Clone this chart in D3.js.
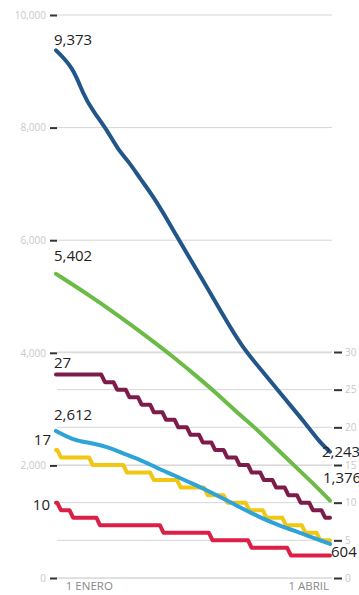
<!DOCTYPE html>
<html>
<head>
<meta charset="utf-8">
<script src="https://cdn.jsdelivr.net/npm/d3@7"></script>
<style>
  html, body { margin: 0; padding: 0; background: #fff; }
  svg { display: block; }
</style>
</head>
<body>
<svg id="chart" width="359" height="595"></svg>
<script>
// ---- DATA (day index from series start, value) ----
const leftTicks = [0, 2000, 4000, 6000, 8000, 10000];
const rightTicks = [0, 5, 10, 15, 20, 25, 30];
const xTickDays = [4, 95];
const xTickLabels = ["1 ENERO", "1 ABRIL"];

// left-axis series (smooth)
const darkBlueDays = [0, 7, 11, 15, 21, 25, 30, 34, 40, 45, 51, 56, 60, 68, 76, 85, 93, 101, 108, 112];
const darkBlueVals = [9373, 9070, 8600, 8300, 7950, 7630, 7380, 7120, 6760, 6400, 5950, 5580, 5290, 4690, 4100, 3640, 3210, 2800, 2400, 2243];

const greenDays = [0, 14, 26, 38, 47, 56, 66, 75, 83, 93, 105, 112];
const greenVals = [5402, 5010, 4645, 4260, 3960, 3638, 3270, 2900, 2610, 2175, 1687, 1376];

const lightBlueDays = [0, 7, 14, 21, 27, 34, 41, 48, 55, 59, 72, 83, 92, 100, 112];
const lightBlueVals = [2612, 2450, 2400, 2330, 2220, 2110, 1960, 1830, 1690, 1615, 1330, 1080, 920, 800, 604];

// right-axis series (steps): day of change, new value
const maroonDays = [0, 20, 25, 30, 35, 40, 45, 50, 55, 60, 65, 70, 75, 80, 85, 90, 95, 100, 105, 110];
const maroonVals = [27, 26, 25, 24, 23, 22, 21, 20, 19, 18, 17, 16, 15, 14, 13, 12, 11, 10, 9, 8];

const yellowDays = [0, 2, 15, 29, 40, 51, 62, 70, 79, 86, 94, 102, 108];
const yellowVals = [17, 16, 15, 14, 13, 12, 11, 10, 9, 8, 7, 6, 5];

const redDays = [0, 2, 7, 18, 44, 64, 80, 96];
const redVals = [10, 9, 8, 7, 6, 5, 4, 3];

const lastDay = 112;

// ---- SETUP ----
const svg = d3.select("#chart");
const x = d3.scaleLinear().domain([0, lastDay]).range([56, 330]);
const yL = d3.scaleLinear().domain([0, 10000]).range([578, 15]);
const yR = d3.scaleLinear().domain([0, 30]).range([578, 352]);

const gridX0 = 57, gridX1 = 332;

// gridlines
const grid = svg.append("g");
leftTicks.forEach(t => {
  grid.append("line").attr("x1", gridX0).attr("x2", gridX1)
    .attr("y1", yL(t)).attr("y2", yL(t))
    .attr("stroke", "#d6d6d6").attr("stroke-width", 1);
});
rightTicks.forEach(t => {
  grid.append("line").attr("x1", gridX0).attr("x2", gridX1)
    .attr("y1", yR(t)).attr("y2", yR(t))
    .attr("stroke", "#d6d6d6").attr("stroke-width", 1);
});

// left axis
const fmt = d3.format(",");
const leftAxis = d3.axisLeft(yL).tickValues(leftTicks).tickSize(7).tickPadding(4).tickFormat(fmt);
const gL = svg.append("g").attr("transform", "translate(57,0)").call(leftAxis);
gL.select(".domain").remove();
gL.selectAll(".tick line").attr("stroke", "#333").attr("stroke-width", 2);
gL.selectAll(".tick text").attr("fill", "#c8c8c8").attr("font-size", 10)
  .attr("font-family", "'Open Sans', sans-serif");

// right axis
const rightAxis = d3.axisRight(yR).tickValues(rightTicks).tickSize(8).tickPadding(3);
const gR = svg.append("g").attr("transform", "translate(334,0)").call(rightAxis);
gR.select(".domain").remove();
gR.selectAll(".tick line").attr("stroke", "#333").attr("stroke-width", 2);
gR.selectAll(".tick text").attr("fill", "#c8c8c8").attr("font-size", 10)
  .attr("font-family", "'Open Sans', sans-serif");

// x labels
xTickDays.forEach((d, i) => {
  svg.append("text").attr("x", x(d)).attr("y", 590)
    .attr("font-family", "'Open Sans', sans-serif").attr("font-size", 11.5)
    .attr("fill", "#8a8a8a").text(xTickLabels[i]);
});

// ---- LINES ----
function smoothPts(days, vals) { return days.map((d, i) => [d, vals[i]]); }
function stepPts(days, vals, end) {
  const pts = [];
  const tw = 1.5;
  days.forEach((d, i) => {
    if (i > 0) pts.push([d - tw, vals[i - 1]]);
    pts.push([d, vals[i]]);
  });
  pts.push([end, vals[vals.length - 1]]);
  return pts;
}

const lineL = d3.line().x(p => x(p[0])).y(p => yL(p[1])).curve(d3.curveBasis);
const lineR = d3.line().x(p => x(p[0])).y(p => yR(p[1])).curve(d3.curveLinear);

const series = [
  { pts: stepPts(redDays, redVals, lastDay), line: lineR, color: "#db1f47" },
  { pts: stepPts(yellowDays, yellowVals, lastDay), line: lineR, color: "#f2c713" },
  { pts: smoothPts(lightBlueDays, lightBlueVals), line: lineL, color: "#2ea3d7" },
  { pts: stepPts(maroonDays, maroonVals, lastDay), line: lineR, color: "#7d1c4a" },
  { pts: smoothPts(greenDays, greenVals), line: lineL, color: "#6cbb46" },
  { pts: smoothPts(darkBlueDays, darkBlueVals), line: lineL, color: "#22568a" }
];
series.forEach(s => {
  svg.append("path").attr("d", s.line(s.pts))
    .attr("fill", "none").attr("stroke", s.color).attr("stroke-width", 4)
    .attr("stroke-linejoin", "round").attr("stroke-linecap", "round");
});

// ---- ANNOTATIONS ----
const lab = (txt, xx, yy, anchor) => svg.append("text").attr("x", xx).attr("y", yy)
  .attr("text-anchor", anchor || "start")
  .attr("font-family", "'Open Sans', sans-serif").attr("font-size", 15)
  .attr("fill", "#222").text(txt);

lab(fmt(darkBlueVals[0]), x(0) - 2, yL(darkBlueVals[0]) - 5);
lab(fmt(greenVals[0]), x(0) - 2, yL(greenVals[0]) - 13);
lab(String(maroonVals[0]), x(0) - 2, yR(maroonVals[0]) - 7);
lab(fmt(lightBlueVals[0]), x(0) - 2, yL(lightBlueVals[0]) - 11);
lab(String(yellowVals[0]), x(0) - 5, yR(yellowVals[0]) - 5, "end");
lab(String(redVals[0]), x(0) - 6, yR(redVals[0]) + 7, "end");

lab(fmt(darkBlueVals[darkBlueVals.length - 1]), x(lastDay) - 8, yL(darkBlueVals[darkBlueVals.length - 1]) + 5);
lab(fmt(greenVals[greenVals.length - 1]), x(lastDay) - 7, yL(greenVals[greenVals.length - 1]) - 18);
lab(fmt(lightBlueVals[lightBlueVals.length - 1]), x(lastDay) + 1, yL(lightBlueVals[lightBlueVals.length - 1]) + 13);
</script>
</body>
</html>
